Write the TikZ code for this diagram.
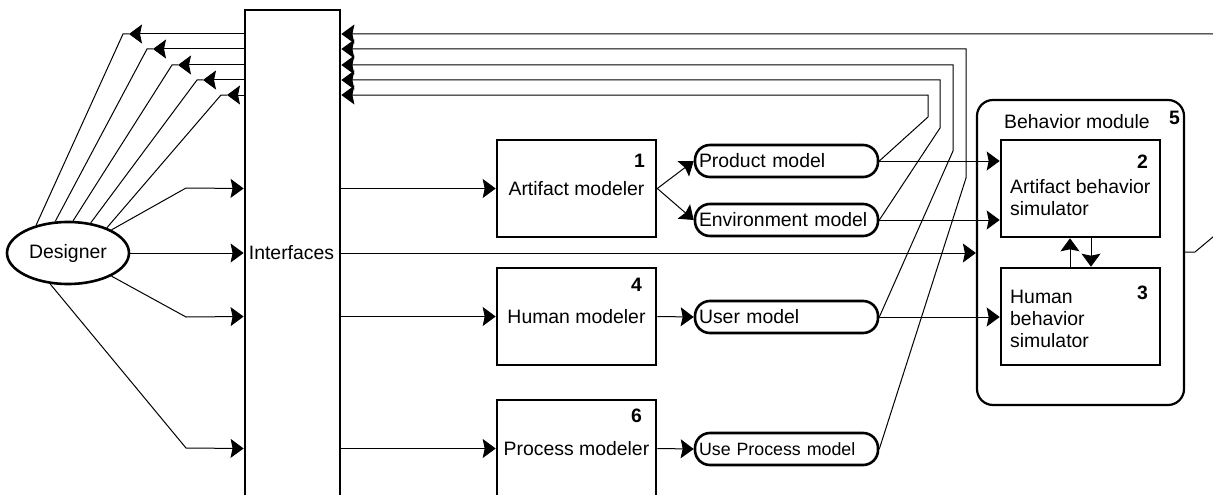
\documentclass[tikz,border=0pt]{standalone}
\usepackage{fontspec}
\setmainfont{Liberation Sans}
\usetikzlibrary{arrows.meta,shapes.geometric}
\begin{document}
\begin{tikzpicture}[x=1pt,y=-1pt,
  font=\fontsize{19.4}{22}\selectfont,
  thinline/.style={line width=1pt, draw=black},
  arr/.style={thinline, -{Stealth[length=13pt,width=19pt,inset=2pt]}},
  box/.style={draw, line width=2.6pt, minimum width=159, minimum height=97, inner sep=0},
  model/.style={draw, line width=2.6pt, rounded corners=15pt, minimum width=183, minimum height=32, text width=175, align=left, inner xsep=4, inner ysep=0},
  num/.style={font=\fontsize{19.4}{22}\selectfont\bfseries, inner sep=0, anchor=east},
  lbl/.style={inner sep=0}
]
\useasboundingbox (0,0) rectangle (1213,495);

% nodes
\node[draw, ellipse, line width=2.6pt, minimum width=122, minimum height=62, inner sep=0] (designer) at (68,253) {Designer};
\node[draw, line width=2.8pt, minimum width=95, minimum height=520, inner sep=0] (iface) at (292.5,270) {};
\node[lbl] (ifacelbl) at (291.5,253) {Interfaces};

\node[box] (am) at (576.5,188.5) {Artifact modeler};
\node[num] (n1) at (645,161) {1};
\node[box] (hm) at (576.5,316.5) {Human modeler};
\node[num] (n4) at (642,285) {4};
\node[box] (pm) at (576.5,448.5) {Process modeler};
\node[num] (n6) at (642,416) {6};

\node[model] (prod) at (786.5,161) {Product model};
\node[model] (env) at (786.5,220) {Environment model};
\node[model] (user) at (786.5,317) {User model};
\node[model, font=\fontsize{17.8}{22}\selectfont] (proc) at (786.5,449) {Use Process model};

\node[draw, line width=2.2pt, rounded corners=16pt, minimum width=207, minimum height=305, inner sep=0] (bm) at (1080.5,252.5) {};
\node[lbl] (bmlbl) at (1077,122) {Behavior module};
\node[num] (n5) at (1180,118) {5};

\node[box] (b2) at (1080.5,188.5) {};
\node[lbl, anchor=west, align=left] (b2lbl) at (1010,198) {Artifact behavior\\simulator};
\node[num] (n2) at (1148,162) {2};
\node[box] (b3) at (1080.5,316.5) {};
\node[lbl, anchor=west, align=left] (b3lbl) at (1010,319) {Human\\behavior\\simulator};
\node[num] (n3) at (1148,293) {3};

% feedback to designer
\coordinate (t1) at (129,34);  \coordinate (k1) at (123,34);
\coordinate (t2) at (153,49);  \coordinate (k2) at (147,49);
\coordinate (t3) at (178,65);  \coordinate (k3) at (172,65);
\coordinate (t4) at (203,80);  \coordinate (k4) at (197,80);
\coordinate (t5) at (227,95);  \coordinate (k5) at (221,95);
\draw[arr] (iface.west |- t1) -- (t1);
\draw[arr] (iface.west |- t2) -- (t2);
\draw[arr] (iface.west |- t3) -- (t3);
\draw[arr] (iface.west |- t4) -- (t4);
\draw[arr] (iface.west |- t5) -- (t5);
\draw[thinline] (t1) -- (k1) -- (designer.139.8);
\draw[thinline] (t2) -- (k2) -- (designer.112.8);
\draw[thinline] (t3) -- (k3) -- (designer.81.1);
\draw[thinline] (t4) -- (k4) -- (designer.53.4);
\draw[thinline] (t5) -- (k5) -- (designer.33.3);

% designer to interfaces
\draw[arr] (designer.28.7) -- (186,188) -- (iface.west |- am.west);
\draw[arr] (designer.east) -- (iface.west |- designer.east);
\draw[arr] (designer.-28.6) -- (186,317) -- (iface.west |- hm.west);
\draw[arr] (designer.-120.1) -- (186,448) -- (iface.west |- pm.west);

% interfaces to modelers / behavior
\draw[arr] (iface.east |- am.west) -- (am.west);
\draw[arr] (iface.east |- hm.west) -- (hm.west);
\draw[arr] (iface.east |- pm.west) -- (pm.west);
\draw[arr] (iface.east |- designer.east) -- (bm.west |- designer.east);

% modelers to models
\draw[arr] (am.east) -- (prod.west);
\draw[arr] (am.east) -- (env.west);
\draw[arr] (hm.east) -- (user.west);
\draw[arr] (pm.east) -- (proc.west);

% models to simulators
\draw[arr] (prod.east) -- (b2.west |- prod.east);
\draw[arr] (env.east) -- (b2.west |- env.east);
\draw[arr] (user.east) -- (b3.west |- user.east);
\draw[arr] (b3.north -| 1070,0) -- (b2.south -| 1070,0);
\draw[arr] (b2.south -| 1091,0) -- (b3.north -| 1091,0);

% models back to interfaces
\draw[arr] (prod.east) -- (928,117) -- (928,95) -- (iface.east |- t5);
\draw[arr] (env.east) -- (940,128) -- (940,80) -- (iface.east |- t4);
\draw[arr] (user.east) -- (953,151) -- (953,65) -- (iface.east |- t3);
\draw[arr] (proc.east) -- (966,178) -- (966,49) -- (iface.east |- t2);
\draw[arr] (bm.east |- 0,252) -- (1195,252) -- (1232,221) -- (1232,34) -- (iface.east |- t1);
\end{tikzpicture}
\end{document}
